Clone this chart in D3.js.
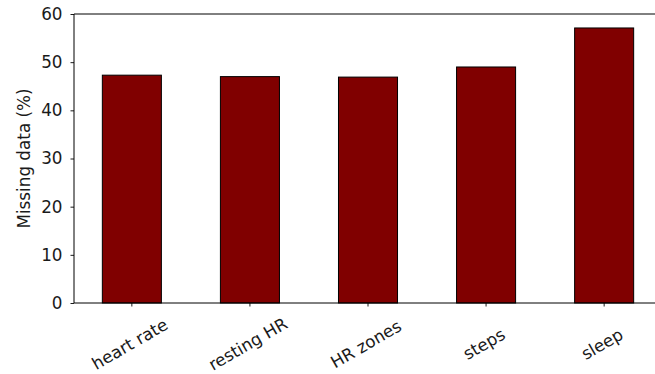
<!DOCTYPE html>
<html>
<head>
<meta charset="utf-8">
<script src="https://cdn.jsdelivr.net/npm/d3@7"></script>
<style>
  html, body { margin: 0; padding: 0; background: #fff; }
  svg { display: block; }
  text { font-family: "DejaVu Sans", sans-serif; fill: #1a1a1a; }
</style>
</head>
<body>
<svg id="chart" width="655" height="374"></svg>
<script>
// Share of missing records per wearable signal
const categories = ["heart rate", "resting HR", "HR zones", "steps", "sleep"];
const missingPct = [47.3, 47.0, 46.9, 49.0, 57.1];
const yTicks = [0, 10, 20, 30, 40, 50, 60];

const width = 655, height = 374;
const margin = { left: 74, top: 14, bottom: 71 };
const plotRight = 662; // axes box runs slightly past the visible frame
const plotBottom = height - margin.bottom;
const fontSize = 16.8;

const svg = d3.select("#chart");

const x = d3.scaleBand()
  .domain(categories)
  .range([margin.left, plotRight])
  .paddingInner(0.5)
  .paddingOuter(0.24);

const y = d3.scaleLinear()
  .domain([0, 60])
  .range([plotBottom, margin.top]);

// bars
svg.append("g")
  .selectAll("rect")
  .data(categories)
  .join("rect")
  .attr("x", d => x(d))
  .attr("y", (d, i) => y(missingPct[i]))
  .attr("width", x.bandwidth())
  .attr("height", (d, i) => plotBottom - y(missingPct[i]))
  .attr("fill", "#800000")
  .attr("stroke", "#000")
  .attr("stroke-width", 1);

// y axis
const yAxis = svg.append("g")
  .attr("transform", `translate(${margin.left},0)`)
  .call(d3.axisLeft(y).tickValues(yTicks).tickSize(3.5).tickPadding(8));
yAxis.select(".domain").remove();
yAxis.selectAll("line").attr("stroke", "#000").attr("stroke-width", 0.9);
yAxis.selectAll("text").attr("font-size", fontSize).attr("fill", "#1a1a1a")
  .style("font-family", "DejaVu Sans");

// x axis
const xAxis = svg.append("g")
  .attr("transform", `translate(0,${plotBottom})`)
  .call(d3.axisBottom(x).tickSize(3.5));
xAxis.select(".domain").remove();
xAxis.selectAll("line").attr("stroke", "#000").attr("stroke-width", 0.9);
xAxis.selectAll("text")
  .attr("font-size", fontSize)
  .attr("fill", "#1a1a1a")
  .style("font-family", "DejaVu Sans")
  .attr("text-anchor", "middle")
  .attr("dy", "0.35em")
  .attr("y", 0)
  .attr("transform", "translate(-2,41) rotate(-30)");

// frame
const frame = svg.append("g").attr("fill", "none").attr("stroke", "#000").attr("stroke-width", 1);
frame.append("line").attr("x1", margin.left).attr("x2", plotRight)
  .attr("y1", margin.top).attr("y2", margin.top);
frame.append("line").attr("x1", margin.left).attr("x2", plotRight)
  .attr("y1", plotBottom).attr("y2", plotBottom);
frame.append("line").attr("x1", margin.left).attr("x2", margin.left)
  .attr("y1", margin.top).attr("y2", plotBottom);

// y label
svg.append("text")
  .attr("transform", `translate(24,${(margin.top + plotBottom) / 2}) rotate(-90)`)
  .attr("text-anchor", "middle")
  .attr("dy", "0.35em")
  .attr("font-size", fontSize)
  .text("Missing data (%)");
</script>
</body>
</html>
